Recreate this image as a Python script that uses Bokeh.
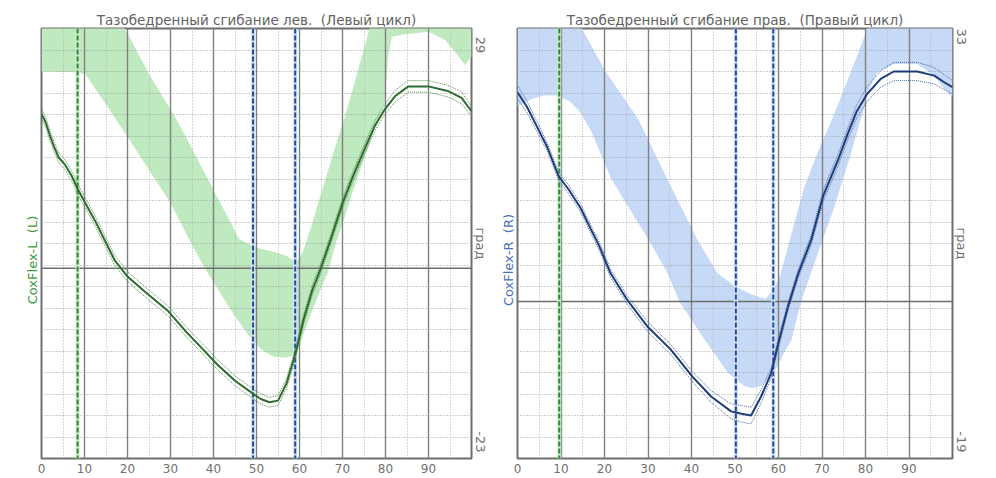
import numpy as np
from bokeh.plotting import figure
from bokeh.layouts import row
from bokeh.models import FixedTicker, Range1d, Span, LinearAxis
from bokeh.embed import file_html
from bokeh.resources import INLINE

FONT = "DejaVu Sans"
NB = "\u00a0"

# ---------------- data : left (L) ----------------
L_title = "Тазобедренный сгибание лев." + NB + " (Левый цикл)"
L_name = "CoxFlex-L" + NB + " (L)"
L_unit = "град"
L_ymin, L_ymax = -23, 29
L_x = [0, 1, 2, 3, 4, 5.5, 7, 8.5, 10.5, 12.5, 14.5, 17, 20, 24, 29.5, 33.5, 37, 41, 45, 49,
       51, 53, 55, 57, 59, 61, 63, 64.6, 67, 70.1, 72.5, 75.2, 77.5, 79.8, 82.2, 85.3, 90,
       94.7, 97.7, 100]
L_mean = [18.7, 17.6, 16.0, 14.6, 13.4, 12.5, 11.2, 9.5, 7.6, 5.7, 3.6, 1.0, -1.0, -2.8, -5.2,
          -7.6, -9.5, -11.7, -13.6, -15.1, -15.8, -16.2, -16.0, -13.9, -10.4, -6.1, -2.6, -0.5,
          3.1, 8.0, 11.2, 14.5, 17.2, 19.2, 20.8, 22.0, 22.0, 21.4, 20.6, 19.0]
L_sd = [0.6, 0.6, 0.6, 0.6, 0.6, 0.6, 0.6, 0.6, 0.6, 0.6, 0.6, 0.6, 0.6, 0.6, 0.6, 0.6, 0.6,
        0.6, 0.6, 0.6, 0.6, 0.6, 0.6, 0.6, 0.6, 0.6, 0.6, 0.6, 0.6, 0.6, 0.6, 0.6, 0.6, 0.6,
        0.7, 0.7, 0.7, 0.7, 0.7, 0.6]
L_norm_hi_x = [0, 15, 19.4, 25, 31.6, 38, 42, 46, 50, 54, 57, 59, 60, 61, 63, 65, 68, 70.5,
               73, 76.3, 78, 100]
L_norm_hi = [33, 33, 29, 23.5, 17.8, 11.5, 7.5, 3.5, 2.5, 2.0, 1.5, 0.8, 1.2, 2.3, 5.5, 9.0,
             14.2, 18.2, 22.8, 29, 33, 33]
L_norm_lo_x = [0, 8, 10.2, 15, 20, 25, 30, 34.5, 38, 44, 48, 51, 54, 57, 59, 60, 62, 64.8,
               66.6, 68.4, 70.1, 72.5, 75.2, 77.5, 79.8, 80.6, 81.5, 84.5, 90, 93.9, 97, 98.5,
               100]
L_norm_lo = [23.8, 23.7, 23.5, 19.8, 15.9, 11.9, 7.9, 3.3, 0.0, -5.0, -8.0, -9.8, -10.7, -10.8,
             -10.4, -9.4, -6.4, -2.7, -0.5, 3.0, 5.5, 9.5, 13.5, 17.0, 20.0, 25.6, 28.0, 28.3,
             28.6, 27.6, 25.6, 24.6, 25.6]
L_events_green = [8.4]
L_events_blue = [49.2, 59.0]

# ---------------- data : right (R) ----------------
R_title = "Тазобедренный сгибание прав." + NB + " (Правый цикл)"
R_name = "CoxFlex-R" + NB + " (R)"
R_unit = "град"
R_ymin, R_ymax = -19, 33
R_x = [0, 2.2, 4.5, 6.8, 9.5, 11.8, 14.5, 16.8, 18.7, 21.4, 25.2, 29.8, 35.2, 40.2, 44.5,
       49.1, 51.5, 53.7, 56, 58.3, 59.8, 62.2, 64.5, 67.5, 70.3, 73.7, 75.8, 78, 80.4, 83.5,
       86.5, 91.9, 95.8, 98.1, 100]
R_mean = [25.3, 23.5, 21.1, 18.7, 15.1, 13.5, 11.3, 8.8, 6.8, 3.4, 0.2, -3.0, -5.8, -9.1,
          -11.5, -13.3, -13.6, -13.8, -11.5, -8.7, -5.4, -0.6, 3.3, 7.4, 12.8, 17.1, 20.1,
          23.0, 25.1, 26.9, 27.8, 27.8, 27.3, 26.5, 25.9]
R_sd = [0.8, 0.7, 0.6, 0.5, 0.5, 0.5, 0.5, 0.5, 0.5, 0.5, 0.5, 0.6, 0.6, 0.6, 0.7, 0.9, 1.0,
        1.0, 0.8, 0.6, 0.6, 0.5, 0.5, 0.6, 0.7, 0.7, 0.7, 0.8, 0.9, 1.0, 1.1, 1.1, 1.0, 0.9,
        0.8]
R_norm_hi_x = [0, 13, 14.8, 20, 27.9, 34.5, 41.4, 46, 50, 54, 57, 59, 60.4, 63, 65.8, 69,
               72.7, 78.1, 80, 82, 100]
R_norm_hi = [36, 36, 33, 28, 21.9, 14.7, 7.4, 3.4, 1.8, 0.8, 0.3, 1.5, 3.2, 8.2, 13.6, 18.0,
             22.5, 29.7, 32.4, 36, 36]
R_norm_lo_x = [0, 3, 6, 9, 12, 14.5, 17, 21.4, 25, 30.2, 34.5, 37.2, 43, 48.3, 52, 54, 56,
               59, 61, 63, 65.2, 67.3, 70, 72.7, 76.5, 79.6, 80.4, 82.7, 86.5, 91.9, 95.8,
               98.1, 100]
R_norm_lo = [23.6, 24.4, 24.9, 24.9, 24.2, 22.8, 20.5, 15.0, 11.8, 7.4, 3.4, 0.0, -4.6, -8.6,
             -10.2, -10.5, -10.2, -8.6, -6.5, -4.6, 0.0, 3.2, 7.2, 11.2, 17.6, 23.3, 25.1,
             27.7, 28.7, 28.7, 27.3, 25.7, 24.7]
R_events_green = [9.6]
R_events_blue = [50.2, 58.8]

x_ticks = [0, 10, 20, 30, 40, 50, 60, 70, 80, 90]
x_major_grid = [0, 10, 20, 30, 40, 50, 60, 70, 80, 90, 100]
x_minor_grid = [5, 15, 25, 35, 45, 55, 65, 75, 85, 95]


def side_axis(ticks, overrides, color, size):
    ax = LinearAxis(ticker=FixedTicker(ticks=ticks), major_label_overrides=overrides,
                    major_label_orientation="parallel")
    ax.axis_line_color = None
    ax.major_tick_line_color = None
    ax.minor_tick_line_color = None
    ax.major_tick_in = 0
    ax.major_tick_out = 0
    ax.minor_tick_in = 0
    ax.minor_tick_out = 0
    ax.major_label_standoff = 1
    ax.major_label_text_font = FONT
    ax.major_label_text_font_size = size
    ax.major_label_text_color = color
    return ax


def panel(title, name, unit, ymin, ymax, x, mean, sd, hx, hy, lx, ly, ev_green, ev_blue,
          band_color, line_color, sd_color, name_color,
          width, mbl, mbr, mbt, mbb, pos):
    p = figure(width=width, height=478, x_range=Range1d(0, 100), y_range=Range1d(ymin, ymax),
               output_backend="svg", toolbar_location=None, y_axis_location=None,
               title=title,
               min_border_left=mbl, min_border_right=mbr, min_border_top=mbt,
               min_border_bottom=mbb, background_fill_color="white",
               border_fill_color="white")
    p.outline_line_color = "#6e6e6e"
    p.outline_line_width = 2

    p.title.align = "center"
    p.title.text_font = FONT
    p.title.text_font_size = "13.5px"
    p.title.text_font_style = "normal"
    p.title.text_color = "#626262"
    p.title.standoff = 2

    ax = p.xaxis[0]
    ax.ticker = FixedTicker(ticks=x_ticks)
    ax.axis_line_color = None
    ax.major_tick_line_color = None
    ax.minor_tick_line_color = None
    ax.major_tick_in = 0
    ax.major_tick_out = 0
    ax.minor_tick_in = 0
    ax.minor_tick_out = 0
    ax.major_label_text_font = FONT
    ax.major_label_text_font_size = "12px"
    ax.major_label_text_color = "#707070"
    ax.major_label_standoff = 5

    p.xgrid.ticker = FixedTicker(ticks=x_major_grid, minor_ticks=x_minor_grid)
    p.xgrid.grid_line_color = "#808080"
    p.xgrid.grid_line_width = 1.4
    p.xgrid.minor_grid_line_color = "#b0b0b0"
    p.xgrid.minor_grid_line_dash = "1 2"
    p.xgrid.minor_grid_line_width = 1
    p.ygrid.ticker = FixedTicker(ticks=[float(v) for v in np.linspace(ymin, ymax, 21)[1:-1]])
    p.ygrid.grid_line_color = "#9a9a9a"
    p.ygrid.grid_line_dash = "1 2"
    p.ygrid.grid_line_width = 1

    band = p.patch(list(hx) + list(lx)[::-1], list(hy) + list(ly)[::-1],
                   fill_color=band_color, line_color=None)
    band.level = "image"

    p.add_layout(Span(location=0, dimension="width", line_color="#6e6e6e",
                      line_width=1.5, level="underlay"))
    for ev, light, dark in [(ev_green, "#cdeccd", "#2c8a2c"), (ev_blue, "#d4e2f7", "#1f4aa0")]:
        for e in ev:
            p.add_layout(Span(location=e, dimension="height", line_color=light,
                              line_width=4, level="underlay"))
            p.add_layout(Span(location=e, dimension="height", line_color=dark,
                              line_width=2, line_dash="5 2", level="underlay"))

    m = np.array(mean)
    s = np.array(sd)
    p.line(x, m + s, line_color=sd_color, line_width=1, line_dash="1 1")
    p.line(x, m - s, line_color=sd_color, line_width=1, line_dash="1 1")
    p.line(x, mean, line_color=line_color, line_width=2)

    name_y, vtop, unit_y, vbot = pos
    p.add_layout(side_axis([name_y], {name_y: name}, name_color, "13px"), "left")
    p.add_layout(side_axis([vtop, unit_y, vbot],
                           {vtop: str(ymax), unit_y: unit, vbot: str(ymin)},
                           "#707070", "13px"), "right")
    return p


p1 = panel(L_title, L_name, L_unit, L_ymin, L_ymax, L_x, L_mean, L_sd,
           L_norm_hi_x, L_norm_hi, L_norm_lo_x, L_norm_lo, L_events_green, L_events_blue,
           "#bfe9bf", "#2f6b30", "#4f8f4f", "#3c9a3c",
           490, 41, 17, 27, 20,
           (1, 27, 3, -21))
p2 = panel(R_title, R_name, R_unit, R_ymin, R_ymax, R_x, R_mean, R_sd,
           R_norm_hi_x, R_norm_hi, R_norm_lo_x, R_norm_lo, R_events_green, R_events_blue,
           "#c6d9f7", "#1f3c78", "#4a6aa6", "#4a70b8",
           506, 27, 44, 28, 19,
           (5, 32, 7, -17))

layout = row(p1, p2)
open("out.html", "w").write(file_html(layout, INLINE))
